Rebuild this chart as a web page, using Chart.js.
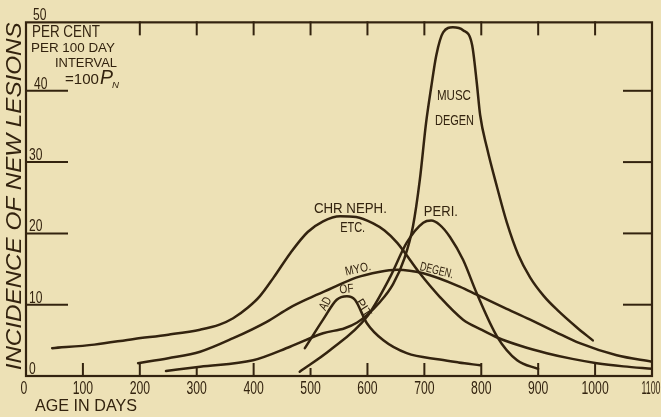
<!DOCTYPE html>
<html>
<head>
<meta charset="utf-8">
<script src="https://cdn.jsdelivr.net/npm/chart.js@4.4.1/dist/chart.umd.min.js"></script>
<style>
  html, body { margin: 0; padding: 0; background: #ede1b6; }
  #wrap { width: 661px; height: 417px; }
</style>
</head>
<body>
<div id="wrap"><canvas id="chart" width="661" height="417"></canvas></div>
<script>
// Axis ticks (age in days, per cent per 100-day interval)
const ageTicks = [0, 100, 200, 300, 400, 500, 600, 700, 800, 900, 1000, 1100];
const pctTicks = [0, 10, 20, 30, 40, 50];

// Chronic nephritis etc.
const chrNephAge = [46, 120, 190, 250, 306, 340, 364, 390, 411, 435, 465, 495, 522, 552, 580, 610, 630, 652, 692, 727, 768, 800, 828, 870, 915, 960, 1003, 1050, 1100];
const chrNephPct = [3.9, 4.4, 5.2, 5.8, 6.5, 7.2, 8.1, 9.6, 11.2, 13.8, 17.3, 20.2, 21.7, 22.4, 22.3, 21.4, 20.4, 18.7, 14.4, 11.1, 7.9, 6.5, 5.4, 4.2, 3.2, 2.4, 1.8, 1.35, 1.0];

// Myocardial degeneration
const myoAge = [197, 250, 306, 364, 423, 464, 500, 534, 580, 620, 652, 698, 763, 792, 840, 886, 930, 973, 1038, 1100];
const myoPct = [1.8, 2.5, 3.4, 5.3, 7.6, 9.6, 11.0, 12.2, 13.8, 14.6, 14.9, 14.4, 12.5, 11.4, 9.6, 7.9, 6.2, 4.6, 2.9, 2.0];

// Periarteritis
const periAge = [481, 534, 599, 640, 669, 698, 712, 727, 745, 768, 792, 828, 863, 900];
const periPct = [0.6, 3.6, 8.3, 13.9, 18.7, 21.5, 21.8, 21.2, 19.5, 16.3, 11.6, 5.5, 2.2, 1.0];

// Muscular degeneration
const muscAge = [246, 306, 399, 464, 522, 560, 582, 600, 620, 645, 665, 680, 692, 703, 712, 721, 733, 750, 768, 784, 792, 798, 810, 828, 845, 865, 886, 910, 933, 968, 996];
const muscPct = [0.7, 1.3, 2.2, 4.1, 6.0, 6.7, 7.5, 8.6, 10.2, 12.9, 16.5, 21.0, 27.5, 35.5, 40.5, 45.0, 48.2, 48.9, 48.5, 46.4, 41.2, 36.6, 32.0, 26.4, 21.5, 17.0, 13.8, 11.2, 9.3, 6.8, 5.0];

// Adenoma of pituitary
const pitAge = [490, 522, 546, 564, 578, 599, 628, 669, 727, 760, 798];
const pitPct = [3.9, 7.9, 10.7, 11.2, 10.7, 7.4, 5.0, 3.2, 2.3, 1.9, 1.5];

const INK = '#33230f';
const PAPER = '#ede1b6';
const FONT = '"Liberation Sans", Arial, sans-serif';
const FRAME_TOP = 49.6;

function series(ages, pcts) {
  return ages.map((a, i) => ({ x: a, y: pcts[i] }));
}

function curve(ages, pcts) {
  return {
    data: series(ages, pcts),
    borderColor: INK,
    borderWidth: 2.5,
    pointRadius: 0,
    fill: false,
    cubicInterpolationMode: 'monotone',
    borderCapStyle: 'round',
    borderJoinStyle: 'round'
  };
}

// Lettering: cap = cap height in px, width = fitted width in px (or sx = horizontal squeeze)
function letter(ctx, text, px, py, o) {
  const cap = o.cap || 10;
  const size = cap / 0.716;
  ctx.save();
  ctx.font = (o.italic ? 'italic ' : '') + size.toFixed(2) + 'px ' + FONT;
  const w = ctx.measureText(text).width;
  const sx = o.width ? o.width / w : (o.sx || 0.75);
  ctx.translate(px, py);
  ctx.rotate((o.rot || 0) * Math.PI / 180);
  ctx.scale(sx, 1);
  ctx.fillStyle = INK;
  ctx.textAlign = o.align || 'center';
  ctx.textBaseline = 'alphabetic';
  ctx.fillText(text, 0, cap / 2);
  ctx.restore();
}

// Notes placed in data units (age, per cent)
const notes = [
  { t: 'PER CENT', a: 10.5, p: 48.4, cap: 11.5, width: 68, align: 'left' },
  { t: 'PER 100 DAY', a: 8.8, p: 46.1, cap: 9, width: 84, align: 'left' },
  { t: 'INTERVAL', a: 51, p: 44.0, cap: 9.5, width: 62, align: 'left' },
  { t: '=100', a: 68.5, p: 41.7, cap: 11, width: 34, align: 'left' },
  { t: 'P', a: 130, p: 41.9, cap: 14, width: 13, align: 'left', italic: true },
  { t: 'N', a: 151, p: 40.8, cap: 6, width: 7, align: 'left', italic: true },
  { t: 'CHR NEPH.', a: 570, p: 23.6, cap: 10, width: 73 },
  { t: 'ETC.', a: 574, p: 20.9, cap: 10, width: 25 },
  { t: 'PERI.', a: 729, p: 23.1, cap: 10, width: 34 },
  { t: 'MUSC', a: 752, p: 39.5, cap: 11, width: 34 },
  { t: 'DEGEN', a: 753, p: 35.9, cap: 10, width: 39 },
  { t: 'MYO.', a: 583, p: 15.1, cap: 9, width: 26, rot: -12 },
  { t: 'DEGEN.', a: 722, p: 14.9, cap: 9, width: 34, rot: 14 },
  { t: 'AD', a: 525, p: 10.2, cap: 9, width: 13, rot: -60 },
  { t: 'OF', a: 563, p: 12.3, cap: 9, width: 14, rot: -5 },
  { t: 'PIT', a: 594, p: 9.6, cap: 9, width: 19, rot: 58 }
];

const frame = {
  id: 'frame',
  beforeDraw(chart) {
    const ctx = chart.ctx;
    ctx.save();
    ctx.fillStyle = PAPER;
    ctx.fillRect(0, 0, chart.width, chart.height);
    ctx.restore();
  },
  afterDraw(chart) {
    const ctx = chart.ctx;
    const xs = chart.scales.x, ys = chart.scales.y;
    const L = xs.getPixelForValue(0), R = xs.getPixelForValue(1100);
    const B = ys.getPixelForValue(0), T = ys.getPixelForValue(FRAME_TOP);
    ctx.save();
    ctx.strokeStyle = INK;
    ctx.lineCap = 'square';
    ctx.lineWidth = 2.2;
    ctx.strokeRect(L, T, R - L, B - T);

    ctx.lineWidth = 2;
    // bottom ticks pointing up, top ticks pointing down
    ageTicks.forEach(v => {
      if (v === 0 || v === 1100) return;
      const x = xs.getPixelForValue(v);
      const len = (v === 300 || v === 500) ? 7 : 12;
      ctx.beginPath(); ctx.moveTo(x, B); ctx.lineTo(x, B - len); ctx.stroke();
      if (v >= 200) {
        ctx.beginPath(); ctx.moveTo(x, T); ctx.lineTo(x, T + 12); ctx.stroke();
      }
    });
    // left and right inner ticks
    pctTicks.forEach(v => {
      if (v === 0 || v === 50) return;
      const y = ys.getPixelForValue(v);
      ctx.beginPath(); ctx.moveTo(L, y); ctx.lineTo(L + 41, y); ctx.stroke();
      ctx.beginPath(); ctx.moveTo(R, y); ctx.lineTo(R - 28, y); ctx.stroke();
    });

    // age labels
    ageTicks.forEach(v => {
      const x = xs.getPixelForValue(v);
      if (v === 1100) {
        letter(ctx, String(v), x - 1, B + 12, { cap: 12.5, width: 19 });
      } else {
        letter(ctx, String(v), v === 0 ? x - 2 : x, B + 12, { cap: 12.5, sx: 0.7 });
      }
    });
    // per cent labels, lettered just above each tick
    pctTicks.forEach(v => {
      const y = ys.getPixelForValue(v);
      let x = L + 3;
      if (v === 40) x = L + 8;
      if (v === 50) x = L + 7;
      letter(ctx, String(v), x, v === 50 ? y - 6 : y - 8, { cap: 12, sx: 0.72, align: 'left' });
    });

    // axis titles
    letter(ctx, 'AGE IN DAYS', xs.getPixelForValue(15.8), ys.getPixelForValue(-4.1), { cap: 12, width: 102, align: 'left' });
    letter(ctx, 'INCIDENCE OF NEW LESIONS', 13.5, ys.getPixelForValue(25.2), { cap: 15.5, width: 348, rot: -90, italic: true });

    notes.forEach(n => {
      letter(ctx, n.t, xs.getPixelForValue(n.a), ys.getPixelForValue(n.p), n);
    });
    ctx.restore();
  }
};

new Chart(document.getElementById('chart'), {
  type: 'line',
  data: {
    datasets: [
      curve(chrNephAge, chrNephPct),
      curve(myoAge, myoPct),
      curve(periAge, periPct),
      curve(muscAge, muscPct),
      curve(pitAge, pitPct)
    ]
  },
  options: {
    responsive: false,
    animation: false,
    devicePixelRatio: 1,
    layout: { padding: { left: 26, right: 9, top: 19.5, bottom: 41 } },
    scales: {
      x: { type: 'linear', min: 0, max: 1100, display: false },
      y: { type: 'linear', min: 0, max: 50, display: false }
    },
    plugins: { legend: { display: false }, tooltip: { enabled: false } }
  },
  plugins: [frame]
});
</script>
</body>
</html>
